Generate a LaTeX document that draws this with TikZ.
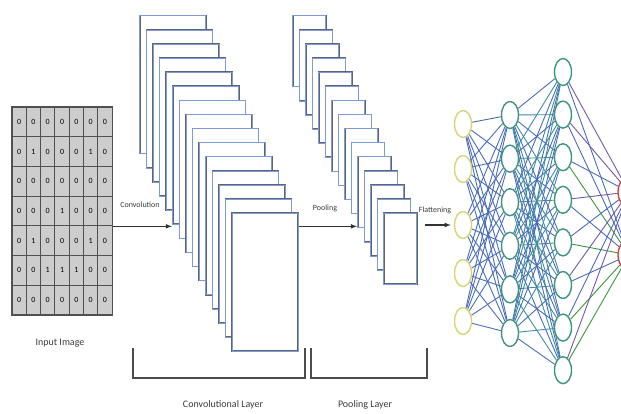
\documentclass[tikz,border=0pt]{standalone}
\usepackage{fontspec}
\setmainfont{Carlito}
\usetikzlibrary{shapes.geometric,backgrounds}
\definecolor{cellfill}{RGB}{205,205,205}
\definecolor{cellline}{RGB}{80,80,80}
\definecolor{sheetedge}{RGB}{95,100,115}
\definecolor{sheetblue}{RGB}{125,155,215}
\definecolor{inyellow}{RGB}{214,212,120}
\definecolor{hidteal}{RGB}{62,148,128}
\definecolor{outred}{RGB}{205,70,70}
\definecolor{wblue}{RGB}{72,108,185}
\definecolor{wteal}{RGB}{64,140,160}
\definecolor{wpurple}{RGB}{112,88,168}
\definecolor{wgreen}{RGB}{58,150,62}
\definecolor{labelgray}{RGB}{60,60,60}
\begin{document}
\begin{tikzpicture}[x=1pt,y=-1pt,
    cell/.style={draw=cellline,fill=cellfill,line width=1.1pt,minimum width=14.3pt,minimum height=29.7pt,inner sep=0pt,font=\fontsize{8}{8}\selectfont},
    convsheet/.style={draw=sheetedge,fill=white,line width=1.5pt,anchor=north west,minimum width=66pt,minimum height=138pt,inner sep=0pt,
        postaction={draw=sheetblue,line width=0.6pt}},
    poolsheet/.style={convsheet,minimum width=33pt,minimum height=71pt},
    neuron/.style={ellipse,draw=hidteal,fill=white,line width=1.4pt,minimum width=17pt,minimum height=27pt,inner sep=0pt},
    arr/.style={-latex,line width=1.1pt,draw=black!80},
    steplabel/.style={font=\fontsize{8}{8}\selectfont,text=labelgray},
    layerlabel/.style={font=\fontsize{10}{10}\selectfont,text=labelgray},
    bracket/.style={draw=black!70,line width=1.1pt},
    wire/.style={line width=0.9pt}]
    \useasboundingbox (0,0) rectangle (621,414);

    \foreach \row [count=\i] in {{0,0,0,0,0,0,0},{0,1,0,0,0,1,0},{0,0,0,0,0,0,0},{0,0,0,1,0,0,0},{0,1,0,0,0,1,0},{0,0,1,1,1,0,0},{0,0,0,0,0,0,0}}
        \foreach \d [count=\j] in \row
            \node[cell] (px\i\j) at ({12+14.3*(\j-0.5)},{107+29.7*(\i-0.5)}) {\d};
    \draw[cellline,line width=1.5pt] (px11.north west) rectangle (px77.south east);
    \node[layerlabel] (inlbl) at (60,343) {Input Image};

    \foreach \k in {0,...,14}
        \node[convsheet] (cv\k) at ({139+6.6*\k},{15+14.1*\k}) {};
    \foreach \k in {0,...,14}
        \node[poolsheet] (pl\k) at ({292+6.5*\k},{15+14.1*\k}) {};

    \foreach \y [count=\k] in {124,169,225,273,321}
        \node[neuron,draw=inyellow] (inp\k) at (463,\y) {};
    \foreach \k in {1,...,6}
        \node[neuron] (hida\k) at (510,{115+43.6*(\k-1)}) {};
    \foreach \k in {1,...,8}
        \node[neuron] (hidb\k) at (563,{72+42.6*(\k-1)}) {};
    \node[neuron,draw=outred,minimum width=22pt,minimum height=30pt] (out1) at (629,192) {};
    \node[neuron,draw=outred,minimum width=22pt,minimum height=30pt] (out2) at (629,255) {};

    \begin{scope}[on background layer]
        \foreach \i in {1,...,5}
            \foreach \j in {1,...,6}
                \draw[wire,wblue] (inp\i) -- (hida\j);
        \foreach \i in {1,...,6}
            \foreach \j in {1,...,8} {
                \pgfmathtruncatemacro\parity{mod(\i+\j,2)}
                \ifnum\parity=0 \def\wc{wblue}\else\def\wc{wteal}\fi
                \draw[wire,\wc] (hida\i) -- (hidb\j);
            }
        \foreach \i/\ca/\cb in {1/wpurple/wblue,2/wpurple/wblue,3/wblue/wgreen,4/wpurple/wblue,5/wblue/wgreen,6/wpurple/wblue,7/wblue/wgreen,8/wpurple/wgreen} {
            \draw[wire,\ca] (hidb\i) -- (out1);
            \draw[wire,\cb] (hidb\i) -- (out2);
        }
    \end{scope}

    \draw[arr] (px47.south east) -- (px47.south east -| cv5.west);
    \draw[arr] (cv14.east |- px47.south east) -- (pl10.west |- px47.south east);
    \draw[arr,shorten <=7pt,shorten >=3pt] (pl14.east |- inp3) -- (inp3.west);
    \node[steplabel] (convtxt) at (140,205) {Convolution};
    \node[steplabel] (pooltxt) at (325,208) {Pooling};
    \node[steplabel] (flattxt) at (435,210) {Flattening};

    \draw[bracket] (133,348) |- (305,378) -- (305,348);
    \draw[bracket] (311,348) |- (427,378) -- (427,348);
    \node[layerlabel] (convlbl) at (223,405) {Convolutional Layer};
    \node[layerlabel] (poollbl) at (365,405) {Pooling Layer};
\end{tikzpicture}
\end{document}
